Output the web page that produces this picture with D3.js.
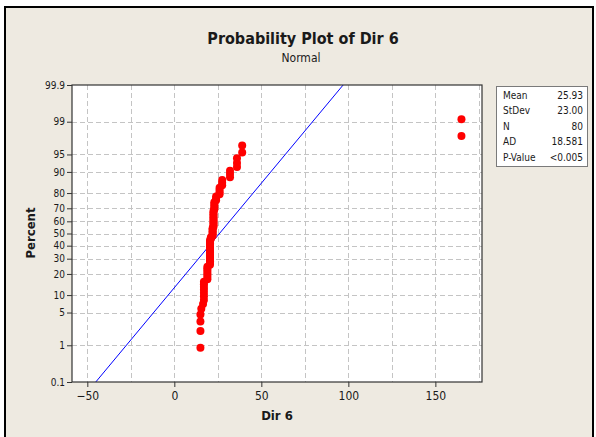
<!DOCTYPE html>
<html>
<head>
<meta charset="utf-8">
<script src="https://cdn.jsdelivr.net/npm/d3@7"></script>
<style>
  body { margin: 0; background: #fff; }
  text { font-family: "DejaVu Sans Condensed", "DejaVu Sans", sans-serif; fill: #1a1a1a; }
</style>
</head>
<body>
<svg id="chart" width="596" height="437"></svg>
<script>
// Dir 6 values, sorted
var dirValues = [
  15, 15, 15, 15, 15.5, 16.5,
  17, 17, 17, 17, 17, 17, 17,
  19, 19, 19, 19, 19, 19, 19,
  20.5, 20.5, 20.5, 20.5, 20.5, 20.5, 20.5, 20.5,
  20.5, 20.5, 20.5, 20.5, 20.5, 20.5, 20.5, 20.5,
  21, 21,
  22, 22, 22, 22, 22, 22,
  22.5, 22.5, 22.5, 22.5, 22.5, 22.5, 22.5, 22.5, 22.5, 22.5, 22.5,
  23, 23, 23, 23, 23,
  24, 24, 24,
  26, 26, 26, 26,
  27.5, 27.5, 27.5,
  32, 32, 32,
  36, 36, 36,
  39, 39,
  165, 165
];
var fitMean = 25.93;
var fitStDev = 23.00;

var xTicks = [-50, 0, 50, 100, 150];
var xGrid = [-50, -25, 0, 25, 50, 75, 100, 125, 150, 175];
var yTicks = [0.1, 1, 5, 10, 20, 30, 40, 50, 60, 70, 80, 90, 95, 99, 99.9];
var yTickLabels = ["0.1", "1", "5", "10", "20", "30", "40", "50", "60", "70", "80", "90", "95", "99", "99.9"];

var statLabels = ["Mean", "StDev", "N", "AD", "P-Value"];
var statValues = ["25.93", "23.00", "80", "18.581", "<0.005"];

// inverse normal cdf (Acklam), used for the probability scale
function normInv(p) {
  var a = [-39.69683028665376, 220.9460984245205, -275.9285104469687, 138.3577518672690, -30.66479806614716, 2.506628277459239];
  var b = [-54.47609879822406, 161.5858368580409, -155.6989798598866, 66.80131188771972, -13.28068155288572];
  var c = [-0.007784894002430293, -0.3223964580411365, -2.400758277161838, -2.549732539343734, 4.374664141464968, 2.938163982698783];
  var d = [0.007784695709041462, 0.3224671290700398, 2.445134137142996, 3.754408661907416];
  var pl = 0.02425, q, r;
  if (p < pl) {
    q = Math.sqrt(-2 * Math.log(p));
    return (((((c[0]*q+c[1])*q+c[2])*q+c[3])*q+c[4])*q+c[5]) / ((((d[0]*q+d[1])*q+d[2])*q+d[3])*q+1);
  } else if (p <= 1 - pl) {
    q = p - 0.5; r = q*q;
    return (((((a[0]*r+a[1])*r+a[2])*r+a[3])*r+a[4])*r+a[5])*q / (((((b[0]*r+b[1])*r+b[2])*r+b[3])*r+b[4])*r+1);
  } else {
    q = Math.sqrt(-2 * Math.log(1 - p));
    return -(((((c[0]*q+c[1])*q+c[2])*q+c[3])*q+c[4])*q+c[5]) / ((((d[0]*q+d[1])*q+d[2])*q+d[3])*q+1);
  }
}

var svg = d3.select("#chart");
var L = 72, R = 482, T = 85, B = 382;

// outer frame
svg.append("rect").attr("x", 5).attr("y", 7).attr("width", 588).attr("height", 440)
  .attr("fill", "#eeeae1").attr("stroke", "#000").attr("stroke-width", 2);

var x = d3.scaleLinear().domain([-58.8, 176.8]).range([L, R]);
var zMax = normInv(0.999);
var yz = d3.scaleLinear().domain([-zMax, zMax]).range([B, T]);
var yP = function(p) { return yz(normInv(p / 100)); };

// plot area
svg.append("rect").attr("x", L).attr("y", T).attr("width", R - L).attr("height", B - T)
  .attr("fill", "#fff");

var clip = svg.append("clipPath").attr("id", "plotclip")
  .append("rect").attr("x", L).attr("y", T).attr("width", R - L).attr("height", B - T);

// grid
var grid = svg.append("g").attr("stroke", "#c4c4c4").attr("stroke-dasharray", "5,3").attr("stroke-width", 1);
grid.selectAll(".vg").data(xGrid).enter().append("line")
  .attr("x1", function(d) { return Math.round(x(d)) + 0.5; })
  .attr("x2", function(d) { return Math.round(x(d)) + 0.5; })
  .attr("y1", T).attr("y2", B);
grid.selectAll(".hg").data(yTicks.slice(1, -1)).enter().append("line")
  .attr("x1", L).attr("x2", R)
  .attr("y1", function(d) { return Math.round(yP(d)) + 0.5; })
  .attr("y2", function(d) { return Math.round(yP(d)) + 0.5; });

// fitted line
var plot = svg.append("g").attr("clip-path", "url(#plotclip)");
var lineZ = [-zMax, zMax];
plot.append("path")
  .datum(lineZ)
  .attr("fill", "none").attr("stroke", "#0000ff").attr("stroke-width", 1)
  .attr("d", d3.line()
    .x(function(z) { return x(fitMean + fitStDev * z); })
    .y(function(z) { return yz(z); }));

// points, median ranks
var n = dirValues.length;
plot.selectAll(".pt").data(dirValues).enter().append("circle")
  .attr("cx", function(d) { return x(d); })
  .attr("cy", function(d, i) { return yz(normInv((i + 1 - 0.3) / (n + 0.4))); })
  .attr("r", 4)
  .attr("fill", "#ff0000");

// frame around plot
svg.append("rect").attr("x", L).attr("y", T).attr("width", R - L).attr("height", B - T)
  .attr("fill", "none").attr("stroke", "#333").attr("stroke-width", 1.2);

// axes
var xAxis = svg.append("g").attr("transform", "translate(0," + B + ")")
  .call(d3.axisBottom(x).tickValues(xTicks).tickSize(5).tickPadding(4).tickFormat(d3.format("d")));
xAxis.select(".domain").remove();
xAxis.selectAll("text").style("font-size", "12px").attr("fill", "#1a1a1a");
xAxis.selectAll("line").attr("stroke", "#333");

var yAxis = svg.append("g").attr("transform", "translate(" + L + ",0)")
  .call(d3.axisLeft(yz).tickValues(yTicks.map(function(t) { return normInv(t / 100); }))
    .tickFormat(function(d, i) { return yTickLabels[i]; }).tickSize(5).tickPadding(2));
yAxis.select(".domain").remove();
yAxis.selectAll("text").style("font-size", "10px").attr("fill", "#1a1a1a");
yAxis.selectAll("line").attr("stroke", "#333");

// titles
svg.append("text").attr("x", 303).attr("y", 44).attr("text-anchor", "middle")
  .style("font-size", "16px").style("font-weight", "bold").text("Probability Plot of Dir 6");
svg.append("text").attr("x", 301).attr("y", 62).attr("text-anchor", "middle")
  .style("font-size", "12px").text("Normal");
svg.append("text").attr("x", 277).attr("y", 420).attr("text-anchor", "middle")
  .style("font-size", "13px").style("font-weight", "bold").text("Dir 6");
svg.append("text").attr("transform", "translate(35,233) rotate(-90)").attr("text-anchor", "middle")
  .style("font-size", "13px").style("font-weight", "bold").text("Percent");

// stats box
svg.append("rect").attr("x", 496.5).attr("y", 86.5).attr("width", 91).attr("height", 80)
  .attr("fill", "#fff").attr("stroke", "#7a7a7a");
var stats = svg.append("g").style("font-size", "10px");
stats.selectAll(".sl").data(statLabels).enter().append("text")
  .attr("x", 503).attr("y", function(d, i) { return 99 + i * 15.4; }).text(function(d) { return d; });
stats.selectAll(".sv").data(statValues).enter().append("text")
  .attr("x", 583).attr("text-anchor", "end")
  .attr("y", function(d, i) { return 99 + i * 15.4; }).text(function(d) { return d; });
</script>
</body>
</html>
